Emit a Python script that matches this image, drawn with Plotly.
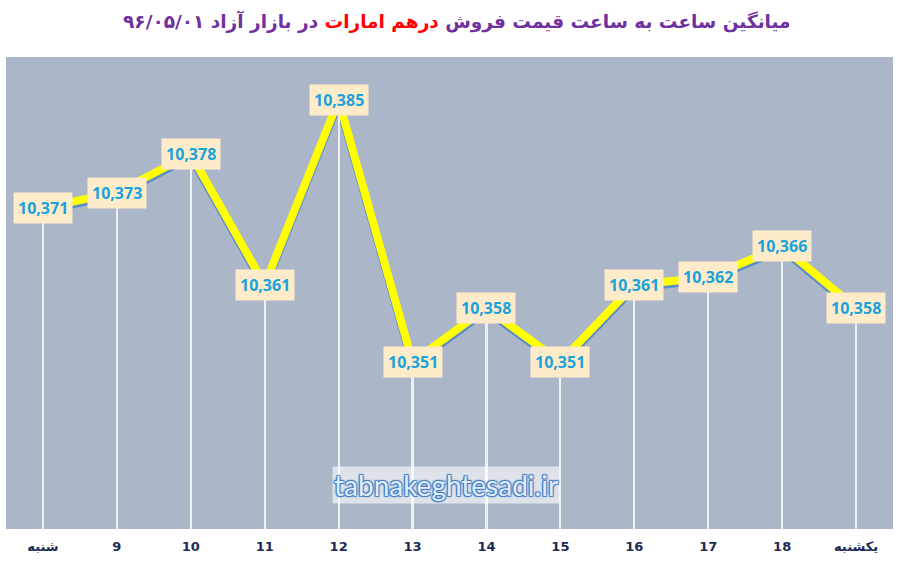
import plotly.graph_objects as go

# داده‌ها
hours = ['شنبه', '9', '10', '11', '12', '13', '14', '15', '16', '17', '18', 'یکشنبه']
prices = [10371, 10373, 10378, 10361, 10385, 10351, 10358, 10351, 10361, 10362, 10366, 10358]
price_labels = ['{:,}'.format(p) for p in prices]

title_main = 'میانگین ساعت به ساعت قیمت فروش'
title_red = 'درهم امارات'
title_tail = 'در بازار آزاد ۹۶/۰۵/۰۱'
watermark = 'tabnakeghtesadi.ir'

y_lo, y_hi = 10329.3, 10390.6
shadow_dy = 0.35  # سایه خط کمی پایین‌تر

fig = go.Figure()

# سایه آبی خط (روی محور اصلی با بازه جابجا شده)
fig.add_trace(go.Scatter(x=hours, y=prices, mode='lines',
                         line=dict(color='rgba(80,135,200,0.9)', width=8),
                         hoverinfo='skip', showlegend=False))

# خطوط عمودی سفید از نقطه تا پایین
fig.add_trace(go.Bar(x=hours, y=prices, width=0.03, xaxis='x2', yaxis='y2',
                     marker=dict(color='rgba(255,255,255,0.8)', line=dict(width=0)),
                     hoverinfo='skip', showlegend=False))

# خط زرد اصلی
fig.add_trace(go.Scatter(x=hours, y=prices, mode='lines', xaxis='x2', yaxis='y2',
                         line=dict(color='#ffff00', width=8), showlegend=False))

# برچسب مقادیر
for i, (p, t) in enumerate(zip(prices, price_labels)):
    fig.add_annotation(x=i, y=p, xref='x2', yref='y2', text='<b>' + t + '</b>', showarrow=False,
                       bgcolor='#fdebc9', borderpad=4,
                       font=dict(family='Noto Sans', size=16, color='#19a2dc'))

fig.add_annotation(xref='paper', yref='paper', x=0.496, y=0.093, xanchor='center', yanchor='middle',
                   text=watermark, showarrow=False, bgcolor='rgba(255,255,255,0.6)', borderpad=1,
                   font=dict(family='Lato', size=28, color='#e3edf9',
                             shadow='1px 1px 1px #3f7cc4, -1px -1px 1px #3f7cc4, 1px -1px 1px #3f7cc4, -1px 1px 1px #3f7cc4'))

fig.update_layout(
    width=901, height=566,
    margin=dict(l=6, r=8, t=57, b=37),
    paper_bgcolor='white',
    plot_bgcolor='#acb6c9',
    bargap=0,
    title=dict(text='<b>' + title_main + ' <span style="color:#ff0000">' + title_red + '</span> ' + title_tail + '</b>',
               x=0.507, xanchor='center', y=0.962, yanchor='middle',
               font=dict(family='DejaVu Sans', size=18.5, color='#7030a0')),
    xaxis=dict(type='category', range=[-0.5, 11.5], showgrid=False, zeroline=False,
               ticks='', ticklabelstandoff=8, automargin=False,
               tickfont=dict(family='DejaVu Sans', size=13, color='#1b2a55', weight='bold')),
    yaxis=dict(range=[y_lo + shadow_dy, y_hi + shadow_dy], showgrid=False, zeroline=False,
               showticklabels=False, automargin=False),
    xaxis2=dict(type='category', range=[-0.5, 11.5], overlaying='x', visible=False),
    yaxis2=dict(range=[y_lo, y_hi], overlaying='y', visible=False),
)

fig.write_html('out.html', config={'displayModeBar': False},
               post_script="document.body.style.margin='0';")
